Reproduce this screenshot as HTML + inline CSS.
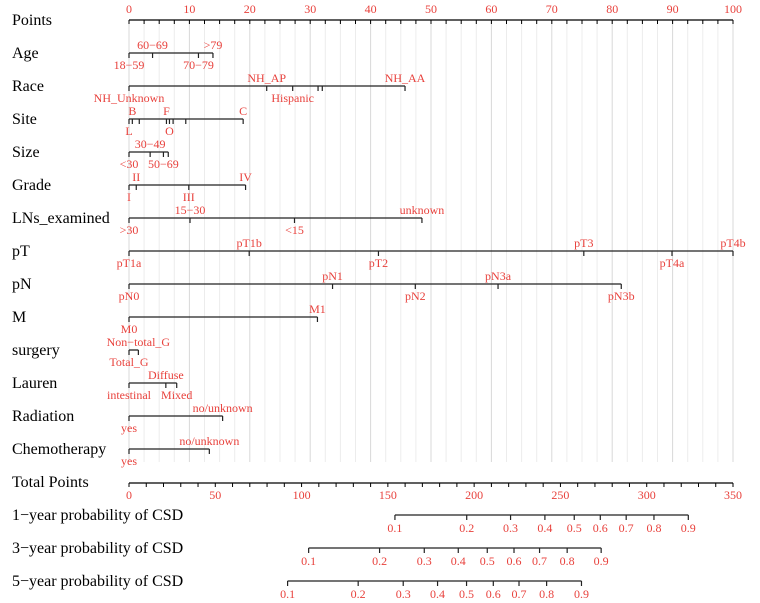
<!DOCTYPE html>
<html><head><meta charset="utf-8">
<style>
html,body{margin:0;padding:0;background:#fff;}
svg{display:block;}
text{font-family:"Liberation Serif","DejaVu Serif",serif;}
.lab{font-size:16px;fill:#000;font-family:"Liberation Serif","DejaVu Serif",serif;}
.tl{font-size:12px;fill:#e8413c;text-anchor:middle;font-family:"Liberation Serif","DejaVu Serif",serif;}
</style></head>
<body>
<svg id="chart" width="760" height="603" viewBox="0 0 760 603" font-family="Liberation Serif, serif" xmlns="http://www.w3.org/2000/svg"></svg>
<script>
// Points scale
const pointTicks = [0,10,20,30,40,50,60,70,80,90,100];
// Variables: names, axis rows, level labels, point values, label side (1 above, 0 below)
const varNames = ["Age","Race","Site","Size","Grade","LNs_examined","pT","pN","M","surgery","Lauren","Radiation","Chemotherapy"];
const varLevels = [
 ["18\u221259","60\u221269","70\u221279",">79"],
 ["NH_Unknown","NH_AP","Hispanic","","","NH_AA"],
 ["L","B","","F","O","","","C"],
 ["<30","30\u221249","50\u221269",""],
 ["I","II","III","IV"],
 [">30","15\u221230","<15","unknown"],
 ["pT1a","pT1b","pT2","pT3","pT4a","pT4b"],
 ["pN0","pN1","pN2","pN3a","pN3b"],
 ["M0","M1"],
 ["Total_G","Non\u2212total_G"],
 ["intestinal","Diffuse","Mixed"],
 ["yes","no/unknown"],
 ["yes","no/unknown"]
];
const varPoints = [
 [0,3.9,11.5,13.9],
 [0,22.8,27.1,31.3,32.0,45.7],
 [0,0.55,1.7,6.2,6.7,7.3,9.4,18.9],
 [0,3.5,5.7,6.5],
 [0,1.2,9.9,19.3],
 [0,10.1,27.4,48.5],
 [0,19.9,41.3,75.3,89.9,100],
 [0,33.7,47.4,61.1,81.5],
 [0,31.2],
 [0,1.55],
 [0,6.1,7.9],
 [0,15.5],
 [0,13.3]
];
const varSides = [
 [0,1,0,1],[0,1,0,1,1,1],[0,1,1,1,0,1,1,1],[0,1,0,1],[0,1,0,1],[0,1,0,1],
 [0,1,0,1,0,1],[0,1,0,1,0],[0,1],[0,1],[0,1,0],[0,1],[0,1]
];
// Total points
const totalTicks = [0,50,100,150,200,250,300,350];
const probLabels = ["0.1","0.2","0.3","0.4","0.5","0.6","0.7","0.8","0.9"];
const probNames = ["1\u2212year probability of CSD","3\u2212year probability of CSD","5\u2212year probability of CSD"];
const prob1 = [154.1,195.7,221.1,241.0,258.0,273.1,288.1,304.2,324.1];
const prob3 = [104.1,145.2,171.1,190.8,207.6,223.1,237.9,253.9,273.6];
const prob5 = [91.9,132.8,158.9,178.8,195.6,211.1,226.0,242.0,262.2];

const X0=129, X1=733;
const xP = p => X0 + (X1-X0)*p/100;
const xT = t => X0 + (X1-X0)*t/350;
const rowY = i => 20 + 33*i;
const svg = document.getElementById('chart');
const NS='http://www.w3.org/2000/svg';
function mk(tag, attrs, text){
  const e=document.createElementNS(NS,tag);
  for(const k in attrs) e.setAttribute(k,attrs[k]);
  if(text!==undefined) e.textContent=text;
  svg.appendChild(e); return e;
}
// grid
for(let p=0;p<=100;p+=2.5){
  const g=mk('line',{x1:xP(p),x2:xP(p),y1:20,y2:462,stroke:(p%10===0)?'#d8d8d8':'#ececec','stroke-width':1});
  
  
}
// Points axis
let t=mk('text',{x:12,y:25,class:'lab'},'Points');


let l=mk('line',{x1:X0,x2:X1,y1:20,y2:20,stroke:'#000','stroke-width':1.3});


for(let p=0;p<=100;p+=2.5){
  const tk=mk('line',{x1:xP(p),x2:xP(p),y1:20,y2:24,stroke:'#000','stroke-width':1});
  
  
}
pointTicks.forEach(p=>{
  const e=mk('text',{x:xP(p),y:13,class:'tl'},String(p));
  
  
});
// variables
varNames.forEach((n,i)=>{
  const y=rowY(i+1);
  const lab=mk('text',{x:12,y:y+5,class:'lab'},n);
  
  
  const pts=varPoints[i];
  const mx=Math.max(...pts);
  const ln=mk('line',{x1:xP(0),x2:xP(mx),y1:y,y2:y,stroke:'#222','stroke-width':1.3});
  
  
  pts.forEach((p,j)=>{
    const tk=mk('line',{x1:xP(p),x2:xP(p),y1:y,y2:y+5,stroke:'#222','stroke-width':1.2});
    
    
    const s=varLevels[i][j];
    if(s){
      const tx=mk('text',{x:xP(p),y:varSides[i][j]?y-4:y+16,class:'tl'},s);
      
      
    }
  });
});
// total points
const ty=483;
t=mk('text',{x:12,y:ty+4,class:'lab'},'Total Points');


l=mk('line',{x1:X0,x2:X1,y1:ty,y2:ty,stroke:'#000','stroke-width':1.3});


for(let v=0;v<=350;v+=10){
  const tk=mk('line',{x1:xT(v),x2:xT(v),y1:ty,y2:ty+4,stroke:'#000','stroke-width':1});
  
  
}
totalTicks.forEach(v=>{
  const e=mk('text',{x:xT(v),y:ty+16,class:'tl'},String(v));
  
  
});
// probabilities
[prob1,prob3,prob5].forEach((arr,i)=>{
  const y=515+33*i;
  const lb=mk('text',{x:12,y:y+5,class:'lab'},probNames[i]);
  
  
  const ln=mk('line',{x1:xT(arr[0]),x2:xT(arr[arr.length-1]),y1:y,y2:y,stroke:'#222','stroke-width':1.3});
  
  
  arr.forEach((v,j)=>{
    const tk=mk('line',{x1:xT(v),x2:xT(v),y1:y,y2:y+5,stroke:'#222','stroke-width':1.2});
    
    
    const tx=mk('text',{x:xT(v),y:y+17,class:'tl'},probLabels[j]);
    
    
  });
});
</script>
</body></html>
